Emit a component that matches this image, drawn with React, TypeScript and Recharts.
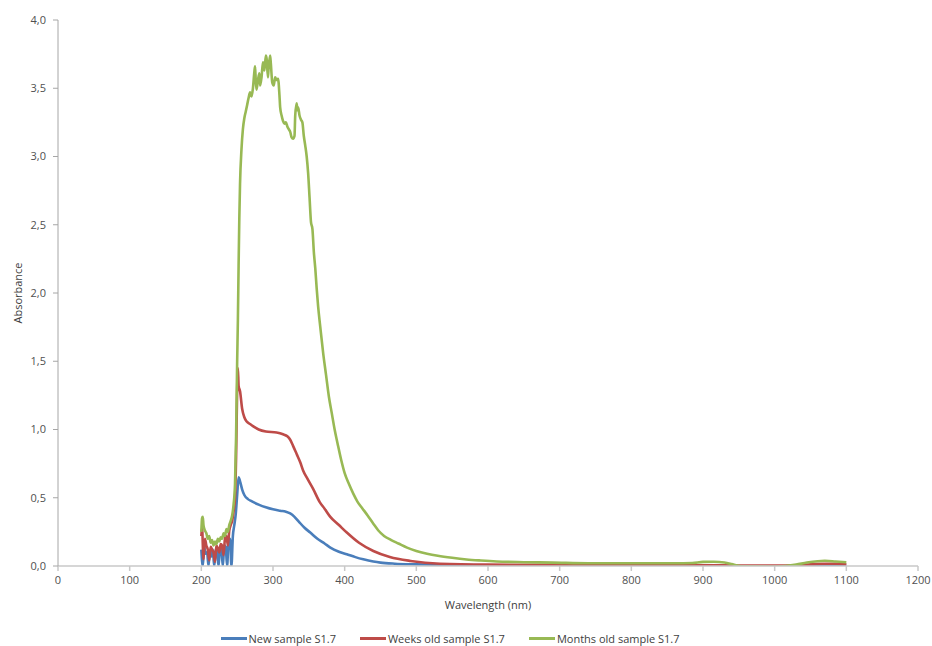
import React from "react";
import { LineChart, Line, XAxis, YAxis, Legend } from "recharts";

// Wavelength grid (nm) and absorbance for the freshly prepared sample
const newWl = [
  200, 202, 204, 206, 208, 210, 212, 214, 216, 218, 220, 222, 224, 226, 228, 230, 232, 234, 236, 238,
  240, 242, 244, 246, 248, 250, 252, 254, 257, 260, 265, 270, 280, 290, 300, 310, 318, 324, 330, 336,
  344, 352, 362, 372, 380, 392, 403, 415, 426, 440, 450, 470, 500, 550, 600, 700, 800, 900, 940, 960,
  1000, 1030, 1060, 1100,
];
const newAbs = [
  0.12, 0.0, 0.14, 0.09, 0.1, 0.0, 0.11, 0.07, 0.12, 0.0, 0.12, 0.1, 0.0, 0.13, 0.12, 0.0, 0.15, 0.14, 0.0, 0.19,
  0.2, 0.0, 0.22, 0.3, 0.38, 0.52, 0.65, 0.62, 0.56, 0.52, 0.49, 0.475, 0.45, 0.43, 0.415, 0.405, 0.398, 0.385, 0.36, 0.325,
  0.28, 0.245, 0.2, 0.165, 0.135, 0.105, 0.086, 0.065, 0.049, 0.033, 0.025, 0.017, 0.012, 0.007, 0.005, 0.003, 0.002, 0.002, 0.0, -0.005,
  -0.005, 0.0, 0.003, 0.003,
];

// Sample aged a few weeks
const weeksWl = [
  200, 201, 203, 205, 207, 209, 211, 213, 215, 217, 219, 221, 223, 225, 227, 229, 231, 233, 235, 237,
  239, 241, 243, 245, 247, 248.5, 250, 251, 252, 254, 257, 260, 263, 268, 272, 280, 290, 305, 314, 320,
  324, 328, 333, 338, 342, 348, 356, 365, 372, 380, 392, 403, 420, 440, 463, 492, 533, 600, 700, 800,
  900, 950, 1000, 1030, 1050, 1070, 1085, 1100,
];
const weeksAbs = [
  0.22, 0.28, 0.05, 0.2, 0.15, 0.12, 0.04, 0.14, 0.12, 0.1, 0.03, 0.15, 0.13, 0.1, 0.16, 0.15, 0.08, 0.2, 0.22, 0.15,
  0.26, 0.3, 0.33, 0.4, 0.5, 0.8, 1.3, 1.45, 1.32, 1.28, 1.15, 1.09, 1.06, 1.04, 1.025, 1.0, 0.985, 0.978, 0.965, 0.95,
  0.925, 0.88, 0.82, 0.76, 0.7, 0.64, 0.565, 0.47, 0.42, 0.36, 0.3, 0.245, 0.17, 0.11, 0.066, 0.037, 0.017, 0.01, 0.008, 0.007,
  0.006, 0.004, 0.003, 0.006, 0.012, 0.017, 0.016, 0.012,
];

// Sample aged a few months
const monthsWl = [
  200, 201, 202, 203, 205, 207, 209, 211, 213, 215, 217, 219, 221, 223, 225, 227, 229, 231, 233, 235,
  237, 239, 241, 243, 245, 247, 248.5, 250, 251, 252, 253, 254, 256, 258, 260, 262, 264, 266, 268, 270,
  272, 274, 275, 276, 277, 279, 281, 282, 284, 286, 288, 290, 291, 293, 294, 296, 297, 299, 301, 303,
  305, 307, 309, 310, 312, 314, 316, 318, 320, 322, 324, 326, 328, 330, 331, 333, 334, 335, 337, 339,
  341, 343, 345, 347, 349, 351, 353, 355, 357, 359, 361, 363, 366, 370, 374, 378, 382, 386, 390, 395,
  400, 406, 412, 418, 425, 432, 440, 447, 455, 465, 475, 487, 500, 515, 530, 550, 570, 590, 612, 650,
  690, 740, 800, 860, 885, 900, 915, 930, 940, 948, 955, 1000, 1015, 1030, 1045, 1060, 1070, 1085, 1100,
];
const monthsAbs = [
  0.25, 0.35, 0.36, 0.3, 0.26, 0.24, 0.2, 0.22, 0.17, 0.19, 0.15, 0.18, 0.16, 0.2, 0.18, 0.21, 0.2, 0.24, 0.22, 0.27,
  0.25, 0.3, 0.33, 0.37, 0.45, 0.6, 0.95, 1.5, 1.8, 2.2, 2.55, 2.8, 3.05, 3.2, 3.28, 3.33, 3.38, 3.43, 3.47, 3.44,
  3.5, 3.62, 3.66, 3.55, 3.49, 3.56, 3.61, 3.52, 3.58, 3.69, 3.63, 3.74, 3.72, 3.58, 3.66, 3.74, 3.68, 3.54, 3.52, 3.58,
  3.56, 3.57, 3.45, 3.36, 3.3, 3.26, 3.24, 3.25, 3.22, 3.2, 3.18, 3.14, 3.13, 3.15, 3.3, 3.39, 3.34, 3.36, 3.3, 3.27,
  3.25, 3.15, 3.08, 3.0, 2.88, 2.7, 2.52, 2.47, 2.3, 2.18, 2.03, 1.9, 1.75, 1.56, 1.4, 1.24, 1.12, 1.0, 0.9, 0.78,
  0.68, 0.6, 0.53, 0.47, 0.42, 0.37, 0.31, 0.26, 0.22, 0.19, 0.165, 0.135, 0.11, 0.09, 0.075, 0.06, 0.048, 0.04, 0.033, 0.028,
  0.025, 0.02, 0.02, 0.02, 0.022, 0.03, 0.031, 0.025, 0.014, 0.004, -0.003, -0.005, 0.0, 0.01, 0.025, 0.035, 0.038, 0.033, 0.027,
];

const xTicks = [0, 100, 200, 300, 400, 500, 600, 700, 800, 900, 1000, 1100, 1200];
const yTicks = [0, 0.5, 1, 1.5, 2, 2.5, 3, 3.5, 4];

const seriesNames = ["New sample S1.7", "Weeks old sample S1.7", "Months old sample S1.7"];
const seriesColors = ["#4a7ebb", "#be4b48", "#98b954"];

const toPoints = (wl: number[], abs: number[]) => wl.map((w, i) => ({ wl: w, abs: abs[i] }));

const series = [
  toPoints(newWl, newAbs),
  toPoints(weeksWl, weeksAbs),
  toPoints(monthsWl, monthsAbs),
];

const FONT = "'Open Sans', 'Noto Sans', sans-serif";
const commaDecimal = (v: number) => v.toFixed(1).replace(".", ",");

const LegendRow = () => (
  <div
    style={{
      display: "flex",
      justifyContent: "center",
      gap: 24,
      fontFamily: FONT,
      fontSize: 11,
      color: "#404040",
      paddingRight: 26,
    }}
  >
    {seriesNames.map((name, i) => (
      <div key={name} style={{ display: "flex", alignItems: "center" }}>
        <span
          style={{
            display: "inline-block",
            width: 26,
            height: 3,
            background: seriesColors[i],
            marginRight: 2,
          }}
        />
        <span>{name}</span>
      </div>
    ))}
  </div>
);

export default function App() {
  return (
    <div style={{ width: 932, height: 646 }}>
      {/* the chart fills the whole window, edge to edge */}
      <style>{"body { margin: 0; }"}</style>
      <LineChart
        width={932}
        height={646}
        margin={{ top: 20, right: 14, left: 8, bottom: 0 }}
        style={{ fontFamily: FONT }}
      >
        <XAxis
          dataKey="wl"
          type="number"
          domain={[0, 1200]}
          ticks={xTicks}
          interval={0}
          allowDuplicatedCategory={false}
          height={65}
          tickSize={5}
          tickMargin={5}
          stroke="#c8c8c8"
          strokeWidth={1.5}
          tick={{ fill: "#505050", fontSize: 11, fontFamily: FONT }}
          label={{
            value: "Wavelength (nm)",
            position: "insideBottom",
            offset: 22,
            fill: "#404040",
            fontSize: 11,
            fontFamily: FONT,
          }}
        />
        <YAxis
          type="number"
          domain={[0, 4]}
          ticks={yTicks}
          interval={0}
          allowDataOverflow
          width={50}
          tickSize={5}
          tickMargin={7}
          stroke="#a6a6a6"
          tickFormatter={commaDecimal}
          tick={{ fill: "#505050", fontSize: 11, fontFamily: FONT }}
          label={{
            value: "Absorbance",
            angle: -90,
            position: "insideLeft",
            offset: 10,
            fill: "#404040",
            fontSize: 11,
            fontFamily: FONT,
            style: { textAnchor: "middle" },
          }}
        />
        <Legend verticalAlign="bottom" content={<LegendRow />} />
        {series.map((data, i) => (
          <Line
            key={seriesNames[i]}
            data={data}
            dataKey="abs"
            name={seriesNames[i]}
            type="monotone"
            stroke={seriesColors[i]}
            strokeWidth={2.6}
            dot={false}
            activeDot={false}
            isAnimationActive={false}
          />
        ))}
      </LineChart>
    </div>
  );
}
